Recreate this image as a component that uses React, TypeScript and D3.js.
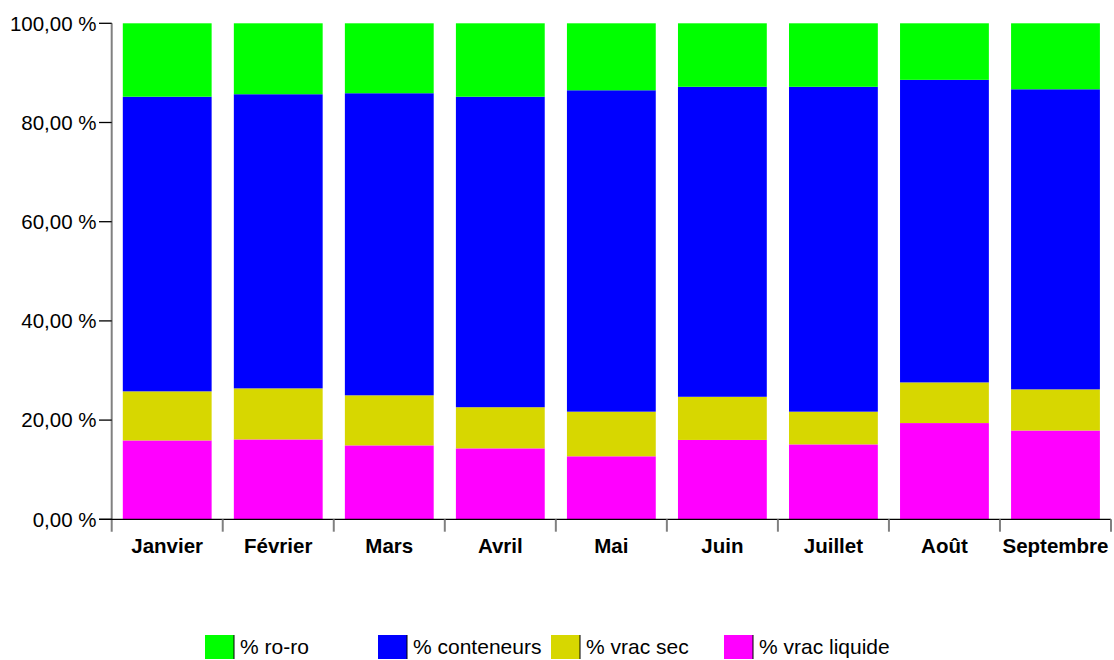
import React from "react"
import * as d3 from "d3"

const months = ["Janvier", "Février", "Mars", "Avril", "Mai", "Juin", "Juillet", "Août", "Septembre"]
const vracLiquide = [15.9, 16.1, 14.9, 14.3, 12.7, 16.0, 15.1, 19.4, 17.9]
const vracSec = [9.9, 10.3, 10.1, 8.3, 9.0, 8.7, 6.6, 8.2, 8.3]
const conteneurs = [59.4, 59.3, 60.9, 62.6, 64.8, 62.5, 65.5, 61.0, 60.5]
const roro = [14.8, 14.3, 14.1, 14.8, 13.5, 12.8, 12.8, 11.4, 13.3]
const yTicks = [0, 20, 40, 60, 80, 100]

const seriesKeys = ["vracLiquide", "vracSec", "conteneurs", "roro"]
const colors: Record<string, string> = {
    vracLiquide: "#ff00ff",
    vracSec: "#d7d700",
    conteneurs: "#0000ff",
    roro: "#00ff00",
}
const legendItems = [
    { key: "roro", label: "% ro-ro", x: 205 },
    { key: "conteneurs", label: "% conteneurs", x: 378 },
    { key: "vracSec", label: "% vrac sec", x: 551 },
    { key: "vracLiquide", label: "% vrac liquide", x: 724 },
]

const font = "Arial, 'Liberation Sans', sans-serif"

export default function App() {
    const width = 1114
    const height = 660
    const [x0, x1] = [111.7, 1111]
    const [yBottom, yTop] = [519.3, 23.3]

    const rows = months.map((m, i) => ({
        month: m,
        vracLiquide: vracLiquide[i],
        vracSec: vracSec[i],
        conteneurs: conteneurs[i],
        roro: roro[i],
    }))

    const band = d3.scaleBand().domain(months).range([x0, x1]).paddingInner(0.2).paddingOuter(0.1)
    const cat = d3.scaleBand().domain(months).range([x0, x1]).padding(0)
    const y = d3.scaleLinear().domain([0, 100]).range([yBottom, yTop])

    const stacked = d3.stack<any>().keys(seriesKeys)(rows)
    const fmt = (v: number) => v.toFixed(2).replace(".", ",") + " %"

    return (
        <div style={{ position: "absolute", left: 0, top: 0 }}>
            <svg width={width} height={height} style={{ display: "block" }} fontFamily={font}>
                {stacked.map((s) => (
                    <g key={s.key} fill={colors[s.key]}>
                        {s.map((d, i) => (
                            <rect
                                key={i}
                                x={band(months[i])}
                                width={band.bandwidth()}
                                y={y(d[1])}
                                height={y(d[0]) - y(d[1])}
                            />
                        ))}
                    </g>
                ))}

                {/* y axis */}
                <line x1={x0} x2={x0} y1={yTop} y2={531.7} stroke="#808080" strokeWidth={2} />
                {yTicks.map((t) => (
                    <g key={t}>
                        <line x1={99} x2={x0} y1={y(t)} y2={y(t)} stroke="#000" strokeWidth={1.3} />
                        <text x={96.5} y={y(t) + 7.3} textAnchor="end" fontSize={20.5} fill="#000">
                            {fmt(t)}
                        </text>
                    </g>
                ))}

                {/* x axis */}
                <line x1={99} x2={x1} y1={yBottom} y2={yBottom} stroke="#000" strokeWidth={1.3} />
                {months.map((m) => (
                    <line
                        key={m}
                        x1={(cat(m) as number) + cat.bandwidth()}
                        x2={(cat(m) as number) + cat.bandwidth()}
                        y1={yBottom}
                        y2={531.7}
                        stroke="#808080"
                        strokeWidth={2}
                    />
                ))}
                {months.map((m) => (
                    <text
                        key={m}
                        x={(cat(m) as number) + cat.bandwidth() / 2}
                        y={552.7}
                        textAnchor="middle"
                        fontSize={20.5}
                        fontWeight="bold"
                        fill="#000"
                    >
                        {m}
                    </text>
                ))}

                {/* legend */}
                {legendItems.map((l) => (
                    <g key={l.key}>
                        <rect x={l.x} y={635} width={29} height={24} fill={colors[l.key]} />
                        <line x1={l.x + 29} x2={l.x + 29} y1={635} y2={659} stroke="#000" strokeWidth={1} />
                        <text x={l.x + 35} y={654.3} fontSize={21} fill="#000">
                            {l.label}
                        </text>
                    </g>
                ))}
            </svg>
        </div>
    )
}
